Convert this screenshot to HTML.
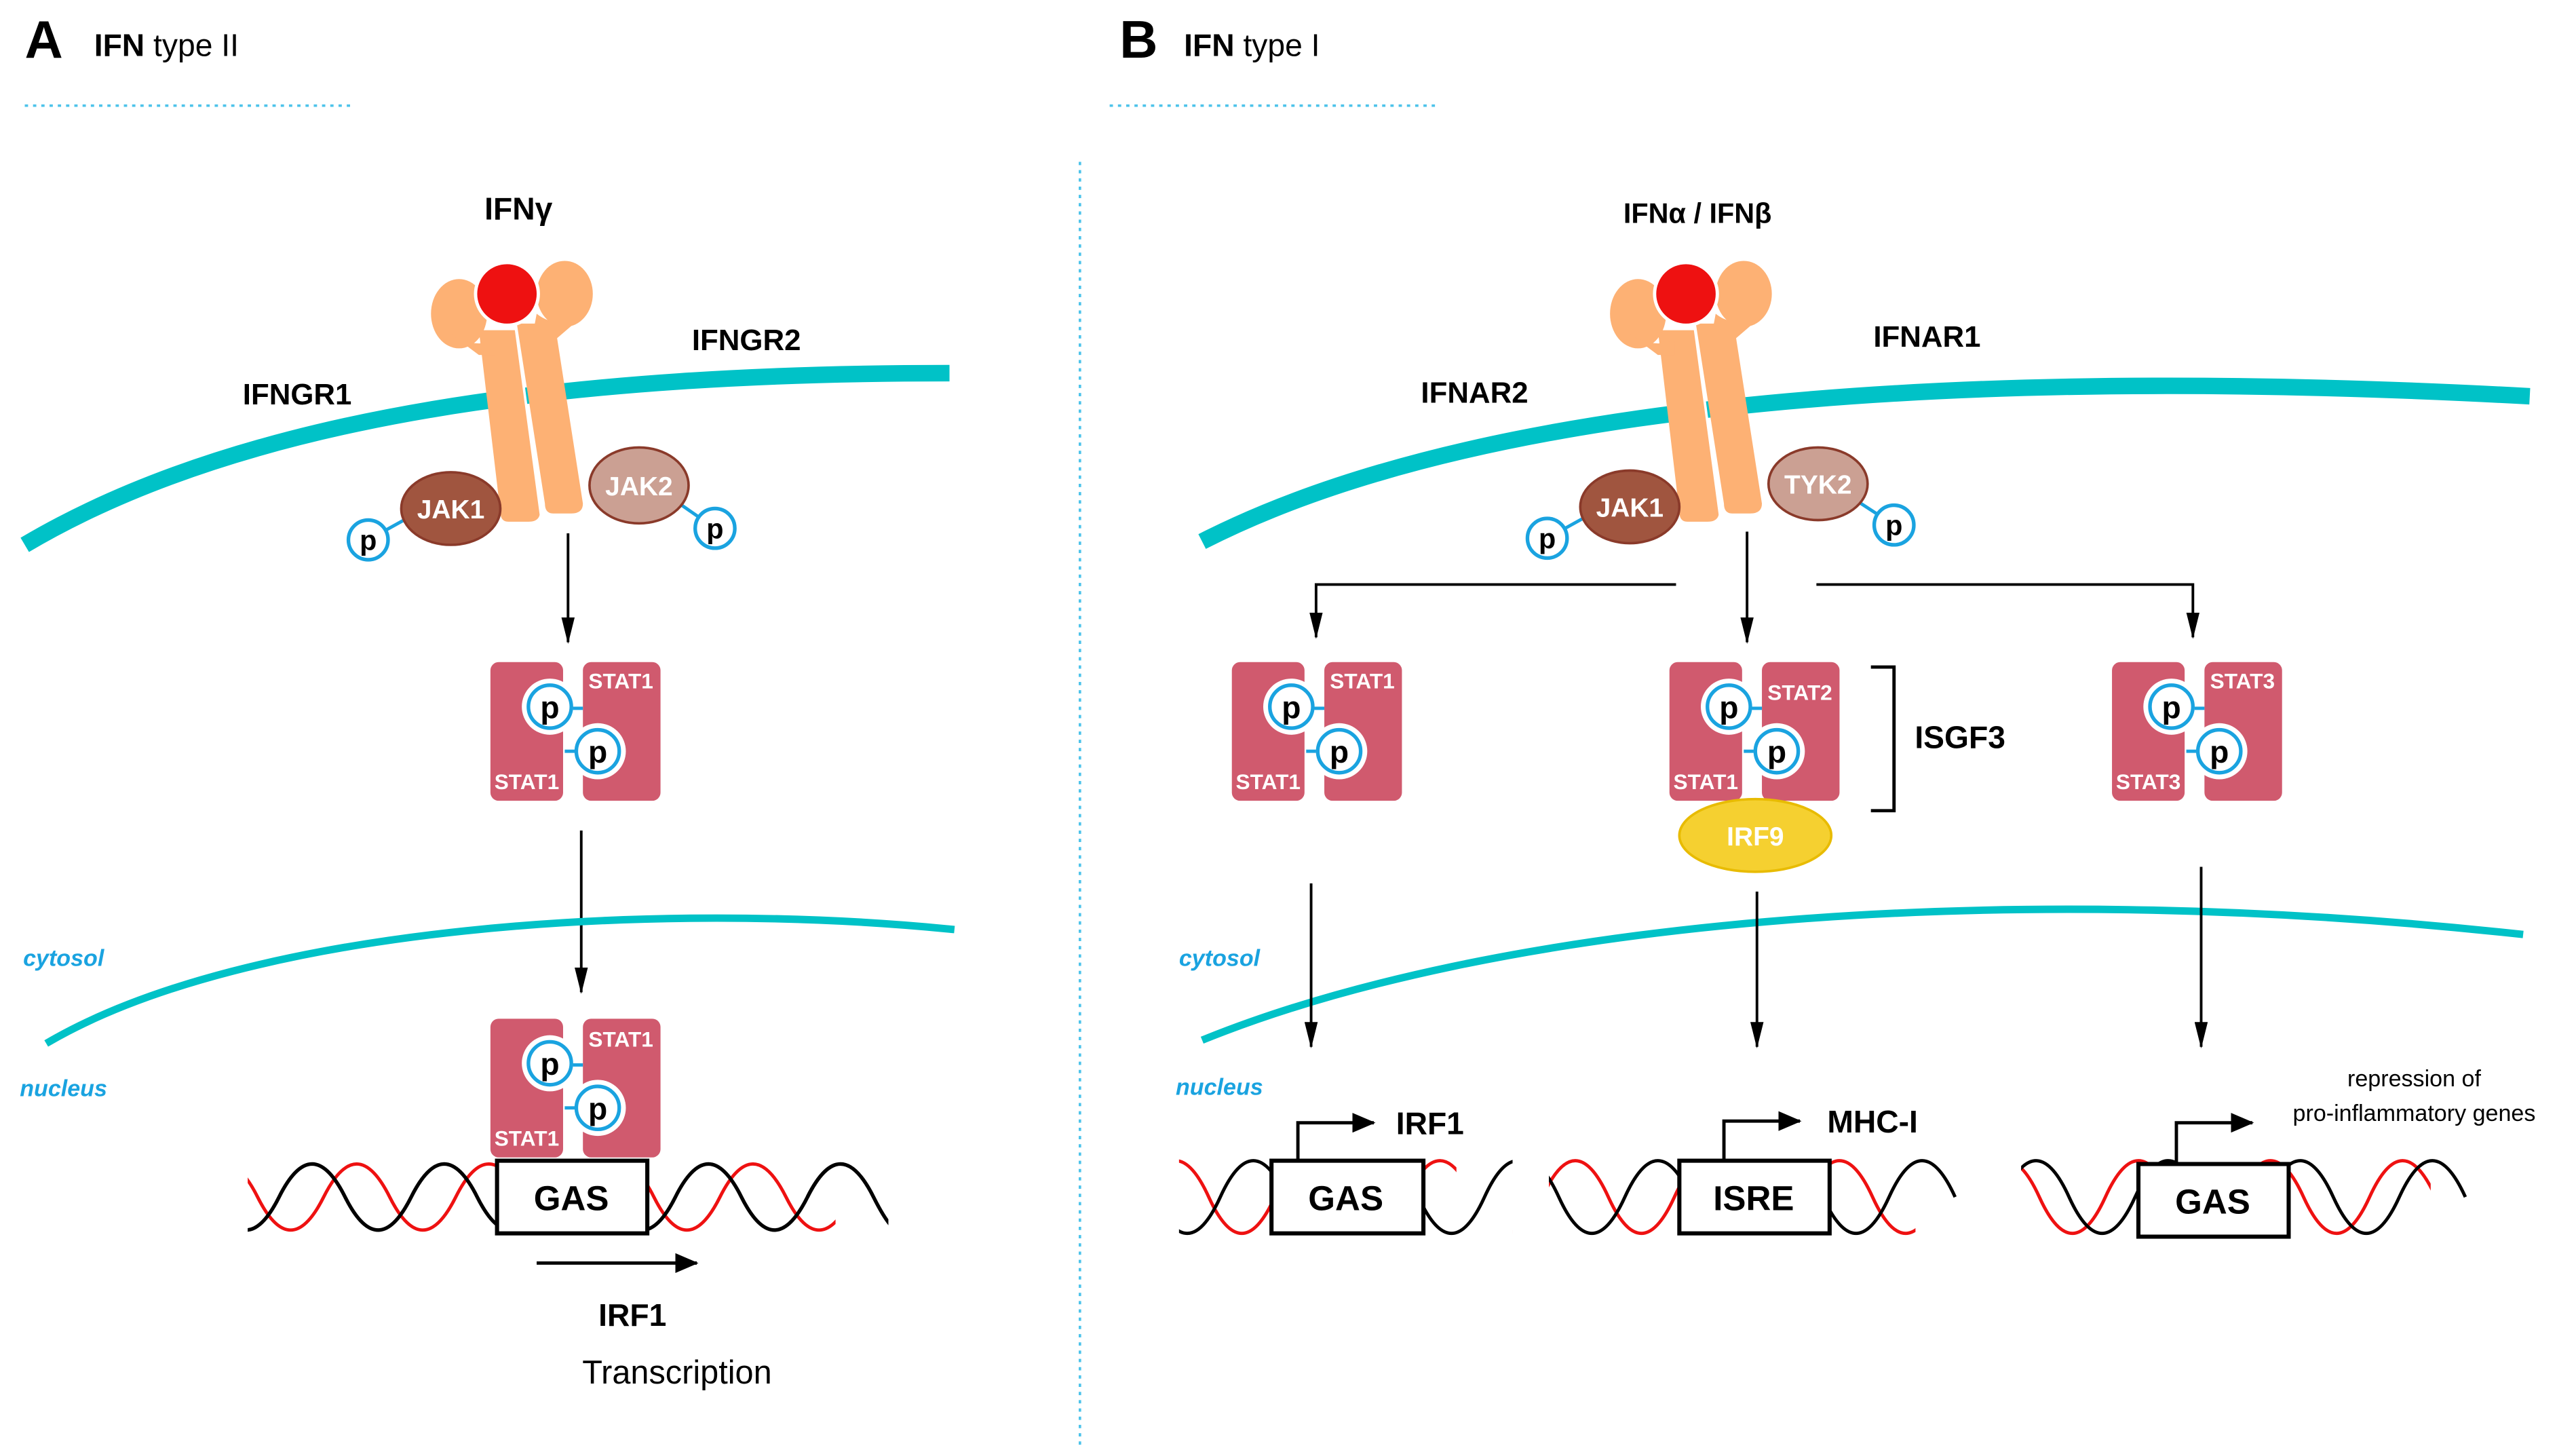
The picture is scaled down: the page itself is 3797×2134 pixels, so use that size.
<!DOCTYPE html>
<html><head><meta charset="utf-8"><style>
html,body{margin:0;padding:0;background:#fff;}
svg{display:block;}
text{font-family:"Liberation Sans",sans-serif;}
</style></head><body>
<svg width="3797" height="2134" viewBox="0 0 1560 877" preserveAspectRatio="none" xmlns="http://www.w3.org/2000/svg">
<defs>
<marker id="ah" viewBox="0 0 16 8" refX="15" refY="4" markerWidth="16" markerHeight="8" orient="auto" markerUnits="userSpaceOnUse"><path d="M0,0 L16,4 L0,8 z" fill="#000"/></marker>
<marker id="ah2" viewBox="0 0 14 12" refX="13" refY="6" markerWidth="14" markerHeight="12" orient="auto" markerUnits="userSpaceOnUse"><path d="M0,0 L14,6 L0,12 z" fill="#000"/></marker>
<clipPath id="cA"><rect x="150" y="690" width="388" height="70"/></clipPath>
<clipPath id="cB1"><rect x="714" y="690" width="202" height="70"/></clipPath>
<clipPath id="cB2"><rect x="938" y="690" width="248" height="70"/></clipPath>
<clipPath id="cB3"><rect x="1224" y="690" width="274" height="70"/></clipPath>
<g id="stat">
  <rect x="0" y="0" width="44" height="84" rx="5" fill="#d05a6e"/>
  <rect x="56" y="0" width="47" height="84" rx="5" fill="#d05a6e"/>
  <circle cx="36" cy="27" r="17" fill="#fff"/>
  <circle cx="65" cy="54" r="17" fill="#fff"/>
  <line x1="50" y1="28" x2="56" y2="28" stroke="#1aa3e0" stroke-width="2"/>
  <line x1="45" y1="54" x2="51" y2="54" stroke="#1aa3e0" stroke-width="2"/>
  <circle cx="36" cy="27" r="13" fill="#fff" stroke="#1aa3e0" stroke-width="2.2"/>
  <circle cx="65" cy="54" r="13" fill="#fff" stroke="#1aa3e0" stroke-width="2.2"/>
  <text x="36" y="34" font-size="19" font-weight="bold" text-anchor="middle">p</text>
  <text x="65" y="61" font-size="19" font-weight="bold" text-anchor="middle">p</text>
</g>
<g id="rec">
  <path d="M290,200 L313,200 L327,310 Q327,316 320,316 L308,316 Q303,316 303,310 Z" fill="#fdb174"/>
  <path d="M313,196 L336,196 L353,305 Q353,311 346,311 L335,311 Q330,311 330,305 Z" fill="#fdb174"/>
  <ellipse cx="278" cy="190" rx="17" ry="21" fill="#fdb174"/>
  <path d="M270,200 Q285,212 300,206 L300,215 L290,215 Z" fill="#fdb174"/>
  <ellipse cx="342" cy="178" rx="17" ry="20" fill="#fdb174"/>
  <path d="M325,190 Q335,198 350,194 L336,206 L322,206 Z" fill="#fdb174"/>
  <line x1="312" y1="196" x2="328" y2="315" stroke="#fff" stroke-width="1.5"/>
  <ellipse cx="307" cy="178" rx="19" ry="19" fill="#ee1111" stroke="#fff" stroke-width="2"/>
</g>
<g id="pc"><circle cx="0" cy="0" r="12" fill="#fff" stroke="#1aa3e0" stroke-width="2.2"/><text x="0" y="6" font-size="17" font-weight="bold" text-anchor="middle">p</text></g>
</defs>

<!-- Headers -->
<text x="15" y="35" font-size="32" font-weight="bold">A</text>
<text x="57" y="34" font-size="19"><tspan font-weight="bold">IFN</tspan> type II</text>
<line x1="15" y1="64" x2="213" y2="64" stroke="#4dc3ea" stroke-width="1.5" stroke-dasharray="2,3"/>
<text x="678" y="35" font-size="32" font-weight="bold">B</text>
<text x="717" y="34" font-size="19"><tspan font-weight="bold">IFN</tspan> type I</text>
<line x1="672" y1="64" x2="870" y2="64" stroke="#4dc3ea" stroke-width="1.5" stroke-dasharray="2,3"/>
<line x1="654" y1="98" x2="654" y2="875" stroke="#4dc3ea" stroke-width="1.5" stroke-dasharray="2,3"/>

<!-- Panel A -->
<text x="314" y="133" font-size="19" font-weight="bold" text-anchor="middle">IFNγ</text>
<path d="M15,330 C150,250 350,226 575,226" fill="none" stroke="#00c2c7" stroke-width="10"/>
<use href="#rec"/>
<text x="180" y="245" font-size="18" font-weight="bold" text-anchor="middle">IFNGR1</text>
<text x="452" y="212" font-size="18" font-weight="bold" text-anchor="middle">IFNGR2</text>
<line x1="223" y1="327" x2="250" y2="312" stroke="#1aa3e0" stroke-width="2"/>
<line x1="410" y1="304" x2="433" y2="320" stroke="#1aa3e0" stroke-width="2"/>
<ellipse cx="273" cy="308" rx="30" ry="22" fill="#a0553f" stroke="#8a3a2a" stroke-width="1.5"/>
<text x="273" y="314" font-size="16" font-weight="bold" fill="#fff" text-anchor="middle">JAK1</text>
<ellipse cx="387" cy="294" rx="30" ry="23" fill="#cba093" stroke="#8a3a2a" stroke-width="1.5"/>
<text x="387" y="300" font-size="16" font-weight="bold" fill="#fff" text-anchor="middle">JAK2</text>
<use href="#pc" x="223" y="327"/>
<use href="#pc" x="433" y="320"/>
<line x1="344" y1="323" x2="344" y2="389" stroke="#000" stroke-width="1.6" marker-end="url(#ah)"/>
<use href="#stat" x="297" y="401"/>
<text x="376" y="417" font-size="13" font-weight="bold" fill="#fff" text-anchor="middle">STAT1</text>
<text x="319" y="478" font-size="13" font-weight="bold" fill="#fff" text-anchor="middle">STAT1</text>
<line x1="352" y1="503" x2="352" y2="601" stroke="#000" stroke-width="1.6" marker-end="url(#ah)"/>
<path d="M28,632 C150,560 400,545 578,563" fill="none" stroke="#00c2c7" stroke-width="4.5"/>
<text x="14" y="585" font-size="14" font-weight="bold" font-style="italic" fill="#1aa3e0">cytosol</text>
<text x="12" y="664" font-size="14" font-weight="bold" font-style="italic" fill="#1aa3e0">nucleus</text>
<use href="#stat" x="297" y="617"/>
<text x="376" y="634" font-size="13" font-weight="bold" fill="#fff" text-anchor="middle">STAT1</text>
<text x="319" y="694" font-size="13" font-weight="bold" fill="#fff" text-anchor="middle">STAT1</text>
<g clip-path="url(#cA)">
<path d="M116,725 q20,-40 40,0 t40,0 t40,0 t40,0 t40,0 t40,0 t40,0 t40,0 t40,0 t40,0" fill="none" stroke="#e11" stroke-width="2" clip-path="none"/>
<path d="M89,725 q20,-40 40,0 t40,0 t40,0 t40,0 t40,0 t40,0 t40,0 t40,0 t40,0 t40,0 t40,0" fill="none" stroke="#000" stroke-width="2.2"/>
<rect x="506" y="690" width="40" height="70" fill="#fff"/>
<path d="M489,725 q20,-40 40,0 t20,0" fill="none" stroke="#000" stroke-width="2.2"/>
</g>
<rect x="301" y="703" width="91" height="44" fill="#fff" stroke="#000" stroke-width="2.5"/>
<text x="346" y="733" font-size="21" font-weight="bold" text-anchor="middle">GAS</text>
<line x1="325" y1="765" x2="422" y2="765" stroke="#000" stroke-width="2" marker-end="url(#ah2)"/>
<text x="383" y="803" font-size="19" font-weight="bold" text-anchor="middle">IRF1</text>
<text x="410" y="838" font-size="20" text-anchor="middle">Transcription</text>

<!-- Panel B -->
<text x="1028" y="135" font-size="17" font-weight="bold" text-anchor="middle">IFNα / IFNβ</text>
<path d="M728,328 C900,240 1200,222 1532,240" fill="none" stroke="#00c2c7" stroke-width="10"/>
<use href="#rec" transform="translate(714,0)"/>
<text x="893" y="244" font-size="18" font-weight="bold" text-anchor="middle">IFNAR2</text>
<text x="1167" y="210" font-size="18" font-weight="bold" text-anchor="middle">IFNAR1</text>
<line x1="937" y1="326" x2="964" y2="311" stroke="#1aa3e0" stroke-width="2"/>
<line x1="1124" y1="303" x2="1147" y2="318" stroke="#1aa3e0" stroke-width="2"/>
<ellipse cx="987" cy="307" rx="30" ry="22" fill="#a0553f" stroke="#8a3a2a" stroke-width="1.5"/>
<text x="987" y="313" font-size="16" font-weight="bold" fill="#fff" text-anchor="middle">JAK1</text>
<ellipse cx="1101" cy="293" rx="30" ry="22" fill="#cba093" stroke="#8a3a2a" stroke-width="1.5"/>
<text x="1101" y="299" font-size="16" font-weight="bold" fill="#fff" text-anchor="middle">TYK2</text>
<use href="#pc" x="937" y="326"/>
<use href="#pc" x="1147" y="318"/>
<line x1="1058" y1="322" x2="1058" y2="389" stroke="#000" stroke-width="1.6" marker-end="url(#ah)"/>
<polyline points="1015,354 797,354 797,386" fill="none" stroke="#000" stroke-width="1.6" marker-end="url(#ah)"/>
<polyline points="1100,354 1328,354 1328,386" fill="none" stroke="#000" stroke-width="1.6" marker-end="url(#ah)"/>
<use href="#stat" x="746" y="401"/>
<text x="825" y="417" font-size="13" font-weight="bold" fill="#fff" text-anchor="middle">STAT1</text>
<text x="768" y="478" font-size="13" font-weight="bold" fill="#fff" text-anchor="middle">STAT1</text>
<use href="#stat" x="1011" y="401"/>
<text x="1090" y="424" font-size="13" font-weight="bold" fill="#fff" text-anchor="middle">STAT2</text>
<text x="1033" y="478" font-size="13" font-weight="bold" fill="#fff" text-anchor="middle">STAT1</text>
<use href="#stat" x="1279" y="401"/>
<text x="1358" y="417" font-size="13" font-weight="bold" fill="#fff" text-anchor="middle">STAT3</text>
<text x="1301" y="478" font-size="13" font-weight="bold" fill="#fff" text-anchor="middle">STAT3</text>
<polyline points="1133,404 1147,404 1147,491 1133,491" fill="none" stroke="#000" stroke-width="2"/>
<text x="1187" y="453" font-size="19" font-weight="bold" text-anchor="middle">ISGF3</text>
<ellipse cx="1063" cy="506" rx="46" ry="22" fill="#f5d030" stroke="#e8bb00" stroke-width="1.5"/>
<text x="1063" y="512" font-size="16" font-weight="bold" fill="#fff" text-anchor="middle">IRF9</text>
<path d="M728,630 C900,560 1200,530 1528,566" fill="none" stroke="#00c2c7" stroke-width="4.5"/>
<text x="714" y="585" font-size="14" font-weight="bold" font-style="italic" fill="#1aa3e0">cytosol</text>
<text x="712" y="663" font-size="14" font-weight="bold" font-style="italic" fill="#1aa3e0">nucleus</text>
<line x1="794" y1="535" x2="794" y2="634" stroke="#000" stroke-width="1.6" marker-end="url(#ah)"/>
<line x1="1064" y1="540" x2="1064" y2="634" stroke="#000" stroke-width="1.6" marker-end="url(#ah)"/>
<line x1="1333" y1="525" x2="1333" y2="634" stroke="#000" stroke-width="1.6" marker-end="url(#ah)"/>

<!-- DNA B1 -->
<g clip-path="url(#cB1)">
<path d="M692,725 q20,-44 40,0 t40,0 t40,0 t40,0 t40,0 t40,0" fill="none" stroke="#e11" stroke-width="2"/>
<rect x="882" y="690" width="40" height="70" fill="#fff"/>
<path d="M699,725 q20,44 40,0 t40,0 t40,0 t40,0 t40,0 t40,0" fill="none" stroke="#000" stroke-width="2"/>
</g>
<rect x="770" y="703" width="92" height="44" fill="#fff" stroke="#000" stroke-width="2.5"/>
<text x="815" y="733" font-size="21" font-weight="bold" text-anchor="middle">GAS</text>
<polyline points="786,703 786,680 832,680" fill="none" stroke="#000" stroke-width="2" marker-end="url(#ah2)"/>
<text x="866" y="687" font-size="19" font-weight="bold" text-anchor="middle">IRF1</text>
<!-- DNA B2 -->
<g clip-path="url(#cB2)">
<path d="M934,725 q20,-44 40,0 t40,0 t40,0 t40,0 t40,0 t40,0" fill="none" stroke="#e11" stroke-width="2"/>
<rect x="1160" y="690" width="40" height="70" fill="#fff"/>
<path d="M904,725 q20,-44 40,0 t40,0 t40,0 t40,0 t40,0 t40,0 t40,0" fill="none" stroke="#000" stroke-width="2"/>
</g>
<rect x="1017" y="703" width="91" height="44" fill="#fff" stroke="#000" stroke-width="2.5"/>
<text x="1062" y="733" font-size="21" font-weight="bold" text-anchor="middle">ISRE</text>
<polyline points="1044,703 1044,679 1090,679" fill="none" stroke="#000" stroke-width="2" marker-end="url(#ah2)"/>
<text x="1134" y="686" font-size="19" font-weight="bold" text-anchor="middle">MHC-I</text>
<!-- DNA B3 -->
<g clip-path="url(#cB3)">
<path d="M1195,725 q20,-44 40,0 t40,0 t40,0 t40,0 t40,0 t40,0 t40,0" fill="none" stroke="#e11" stroke-width="2"/>
<rect x="1472" y="690" width="40" height="70" fill="#fff"/>
<path d="M1213,725 q20,-44 40,0 t40,0 t40,0 t40,0 t40,0 t40,0 t40,0" fill="none" stroke="#000" stroke-width="2"/>
</g>
<rect x="1295" y="705" width="91" height="44" fill="#fff" stroke="#000" stroke-width="2.5"/>
<text x="1340" y="735" font-size="21" font-weight="bold" text-anchor="middle">GAS</text>
<polyline points="1318,705 1318,680 1364,680" fill="none" stroke="#000" stroke-width="2" marker-end="url(#ah2)"/>
<text x="1462" y="658" font-size="14" text-anchor="middle">repression of</text>
<text x="1462" y="679" font-size="14" text-anchor="middle">pro-inflammatory genes</text>
</svg>
</body></html>
